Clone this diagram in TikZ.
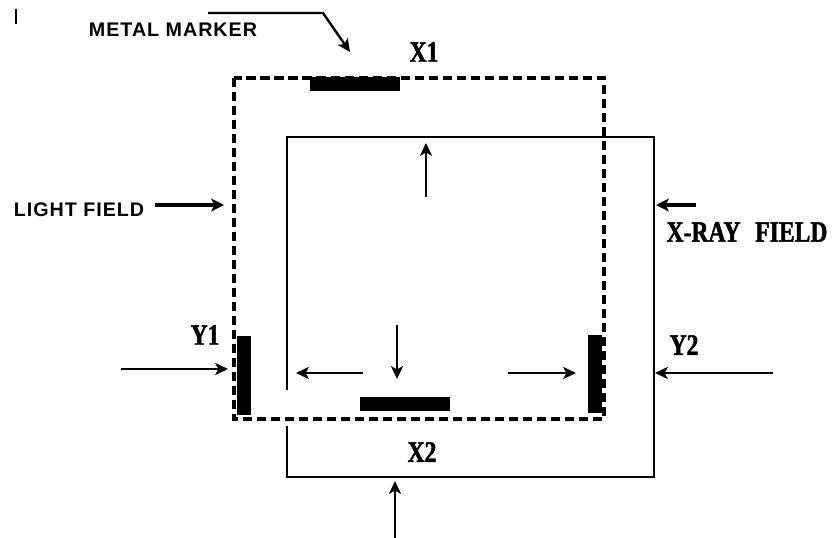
\documentclass[tikz,border=0pt]{standalone}
\usepackage{fontspec}
\newfontfamily\sansLab[LetterSpace=5]{Liberation Sans}
\newfontfamily\serifLab[FakeStretch=0.8, FakeBold=1.5]{Liberation Serif}
\usetikzlibrary{arrows.meta,positioning}

\begin{document}
\begin{tikzpicture}[
  x=0.025cm,
  y=-0.025cm,
  line join=miter,
  thinArrow/.style={draw=black, line width=1.7pt, -{Stealth[length=3.2mm, width=3mm, inset=0.8mm]}},
  thickArrow/.style={draw=black, line width=2.8pt, -{Stealth[length=3.2mm, width=3.2mm, inset=0.8mm]}},
  every node/.style={inner sep=0pt, outer sep=0pt}
]

% ---------- node styles ----------
\tikzset{
  sansText/.style={font=\sansLab\bfseries\fontsize{14}{16}\selectfont, text=black},
  serifText/.style={font=\serifLab\bfseries\fontsize{21}{24}\selectfont, text=black},
  hMarker/.style={fill=black, minimum width=2.25cm, minimum height=0.35cm},
  vMarker/.style={fill=black, minimum width=0.34cm, minimum height=1.95cm},
  lightField/.style={draw=black, line width=2.8pt, dash pattern=on 0.23cm off 0.12cm},
  xrayField/.style={draw=black, line width=1.8pt}
}

\useasboundingbox (0,0) rectangle (834,538);

% ---------- stray tick ----------
\draw[line width=1.1pt] (16,9) -- (16,24);

% ---------- fields ----------
\draw[lightField] (234,78) rectangle (604,419);
\draw[xrayField] (287,390) -- (287,137) -- (654,137) -- (654,477) -- (287,477) -- (287,426);

% ---------- metal markers ----------
\node[hMarker] (mX1) at (355,84) {};
\node[hMarker] (mX2) at (405,404) {};
\node[vMarker] (mY1) at (244,375.5) {};
\node[vMarker] (mY2) at (595,374) {};

% ---------- labels ----------
\node[sansText] (metal) at (173,30) {METAL MARKER};
\node[sansText] (light) at (79,210) {LIGHT FIELD};
\node[serifText] (lX1) at (424,52) {X1};
\node[serifText] (lX2) at (422,452) {X2};
\node[serifText] (lY1) at (205,335) {Y1};
\node[serifText] (lY2) at (684,345) {Y2};
\node[serifText] (xray) at (747,232) {X-RAY\hspace{0.5em}FIELD};

% ---------- arrow end points ----------
\coordinate (leadA) at (208,13);
\coordinate (leadB) at (323,13);
\coordinate (leadC) at (350,52);
\coordinate (lightA) at (155,205);
\coordinate (lightB) at (224,205);
\coordinate (xrayA) at (696,205);
\coordinate (xrayB) at (656,205);
\coordinate (upA) at (426,197);
\coordinate (upB) at (426,143);
\coordinate (downA) at (397,325);
\coordinate (downB) at (397,379);
\coordinate (leftA) at (363,373);
\coordinate (leftB) at (296,373);
\coordinate (rightA) at (508,373);
\coordinate (rightB) at (576,373);
\coordinate (y1A) at (121,369);
\coordinate (y1B) at (228,369);
\coordinate (y2A) at (773,373);
\coordinate (y2B) at (655,373);
\coordinate (botA) at (395,538);
\coordinate (botB) at (395,481);

% ---------- arrows ----------
\draw[thinArrow] (leadA) -- (leadB) -- (leadC);
\draw[thickArrow] (lightA) -- (lightB);
\draw[thickArrow] (xrayA) -- (xrayB);
\draw[thinArrow] (upA) -- (upB);
\draw[thinArrow] (downA) -- (downB);
\draw[thinArrow] (leftA) -- (leftB);
\draw[thinArrow] (rightA) -- (rightB);
\draw[thinArrow] (y1A) -- (y1B);
\draw[thinArrow] (y2A) -- (y2B);
\draw[thinArrow] (botA) -- (botB);

\end{tikzpicture}
\end{document}
